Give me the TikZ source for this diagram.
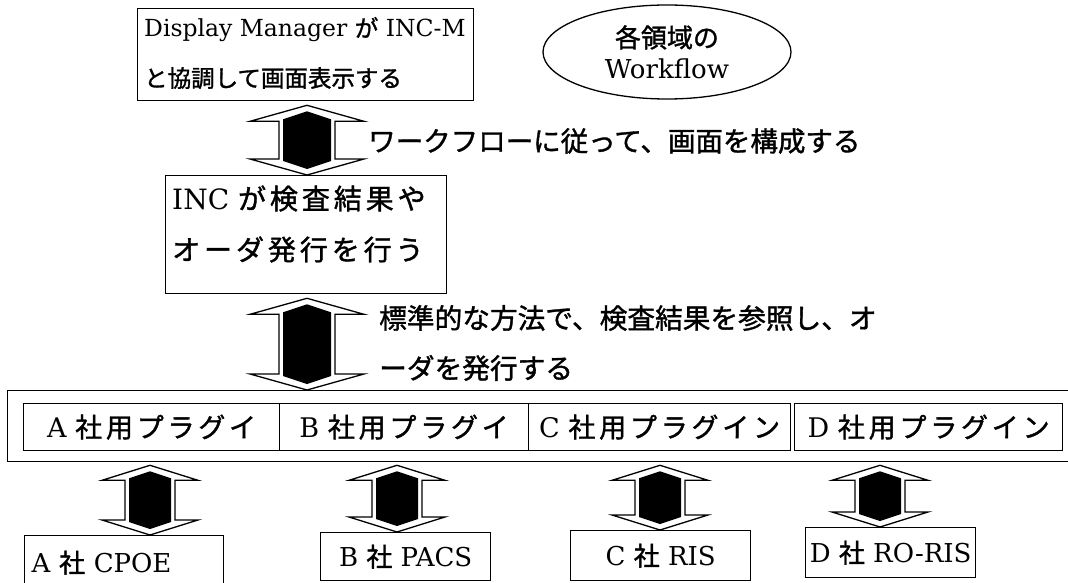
\documentclass[tikz,border=0pt]{standalone}
\usepackage{fontspec}
\setmainfont{DejaVu Serif}
\newfontfamily\jpf[FakeBold=1.3]{Noto Sans CJK JP}
\newfontfamily\jpsp[FakeBold=1.3,LetterSpace=14]{Noto Sans CJK JP}
\newcommand\jtext[1]{{\jpf #1}}
\newcommand\jsp[1]{{\jpsp #1}}
\usetikzlibrary{calc,shapes.geometric}
% #1 top point, #2 bottom point, #3 head half width, #4 shaft half width, #5 head height
\newcommand\bigarrow[5]{%
  \draw[line width=1.3pt,fill=white,line join=miter] let \p1=#1, \p2=#2 in
    (\x1,\y1) -- (\x1+#3,\y1-#5) -- (\x1+#4,\y1-#5) -- (\x1+#4,\y2+#5) -- (\x1+#3,\y2+#5) -- (\x1,\y2)
    -- (\x1-#3,\y2+#5) -- (\x1-#4,\y2+#5) -- (\x1-#4,\y1-#5) -- (\x1-#3,\y1-#5) -- cycle;
  \fill let \p1=#1, \p2=#2 in
    (\x1,\y1-6pt) -- (\x1+#4-4pt,\y1-#5+2pt) -- (\x1+#4-4pt,\y2+#5-2pt) -- (\x1,\y2+6pt)
    -- (\x1-#4+4pt,\y2+#5-2pt) -- (\x1-#4+4pt,\y1-#5+2pt) -- cycle;
}
\begin{document}
\begin{tikzpicture}[x=1pt,y=-1pt,
  box/.style={draw,line width=1.3pt,inner sep=0pt,anchor=north west},
  txt/.style={anchor=west,inner sep=0pt,align=left},
  lab/.style={anchor=west,inner sep=0pt},
  plug/.style={box,minimum height=47pt,font=\fontsize{27}{30}\selectfont},
  sys/.style={box,font=\fontsize{26}{30}\selectfont},
]
\useasboundingbox[fill=white] (0,0) rectangle (1068,583);

% top box
\node[box,minimum width=336pt,minimum height=92pt] (dm) at (137,8) {};
\node[txt,font=\fontsize{23.5}{50}\selectfont] (dmt) at (144,53)
  {Display Manager \jtext{が} INC-M\\\jtext{と協調して画面表示する}};

% ellipse
\node[draw,ellipse,line width=1.3pt,minimum width=248pt,minimum height=94pt,inner sep=0pt,
      align=center,font=\fontsize{26}{31}\selectfont] (wf) at (667,52)
  {\jtext{各領域の}\\Workflow};

% INC box
\node[box,minimum width=281pt,minimum height=118pt] (inc) at (165,175) {};
\node[txt,font=\fontsize{28}{51}\selectfont] (inct) at (172,224)
  {INC \jsp{が検査結果や}\\\jsp{オーダ発行を行う}};

% plugin frame and plugins
\node[box,minimum width=1070pt,minimum height=71pt] (pf) at (7,390) {};
\node[plug,minimum width=256pt] (pa) at (23,403) {A \jsp{社用プラグイ}};
\node[plug,minimum width=249pt] (pb) at (279,403) {B \jsp{社用プラグイ}};
\node[plug,minimum width=262pt] (pc) at (528,403) {C \jsp{社用プラグイン}};
\node[plug,minimum width=268pt] (pd) at (794,403) {D \jsp{社用プラグイン}};

% systems
\node[sys,minimum width=199pt,minimum height=54pt,text width=185pt,inner xsep=7pt,align=left] (ca) at (24,535) {A \jtext{社} CPOE};
\node[sys,minimum width=170pt,minimum height=48pt] (cb) at (320,532) {B \jtext{社} PACS};
\node[sys,minimum width=180pt,minimum height=50pt] (cc) at (570,530) {C \jtext{社} RIS};
\node[sys,minimum width=170pt,minimum height=50pt] (cd) at (805,527) {D \jtext{社} RO-RIS};

% labels
\node[lab,font=\fontsize{27.5}{30}\selectfont] (l1) at (368,141) {\jtext{ワークフローに従って、画面を構成する}};
\node[lab,font=\fontsize{27.7}{30}\selectfont] (l2a) at (379,318) {\jtext{標準的な方法で、検査結果を参照し、オ}};
\node[lab,font=\fontsize{27.7}{30}\selectfont] (l2b) at (379,368) {\jtext{ーダを発行する}};

% block arrows
\bigarrow{($(dm.south west)+(170,4)$)}{(inc.north)}{57pt}{28pt}{16pt}
\bigarrow{($(inc.south west)+(142,4)$)}{(pf.north)}{57pt}{28pt}{16pt}
\bigarrow{($(pf.south west)+(143,3)$)}{(ca.north)}{48pt}{25pt}{15pt}
\bigarrow{($(pf.south west)+(390,3)$)}{(cb.north)}{48pt}{25pt}{15pt}
\bigarrow{($(pf.south west)+(653,3)$)}{(cc.north)}{48pt}{25pt}{15pt}
\bigarrow{($(pf.south west)+(873,3)$)}{(cd.north)}{48pt}{25pt}{15pt}
\end{tikzpicture}
\end{document}
